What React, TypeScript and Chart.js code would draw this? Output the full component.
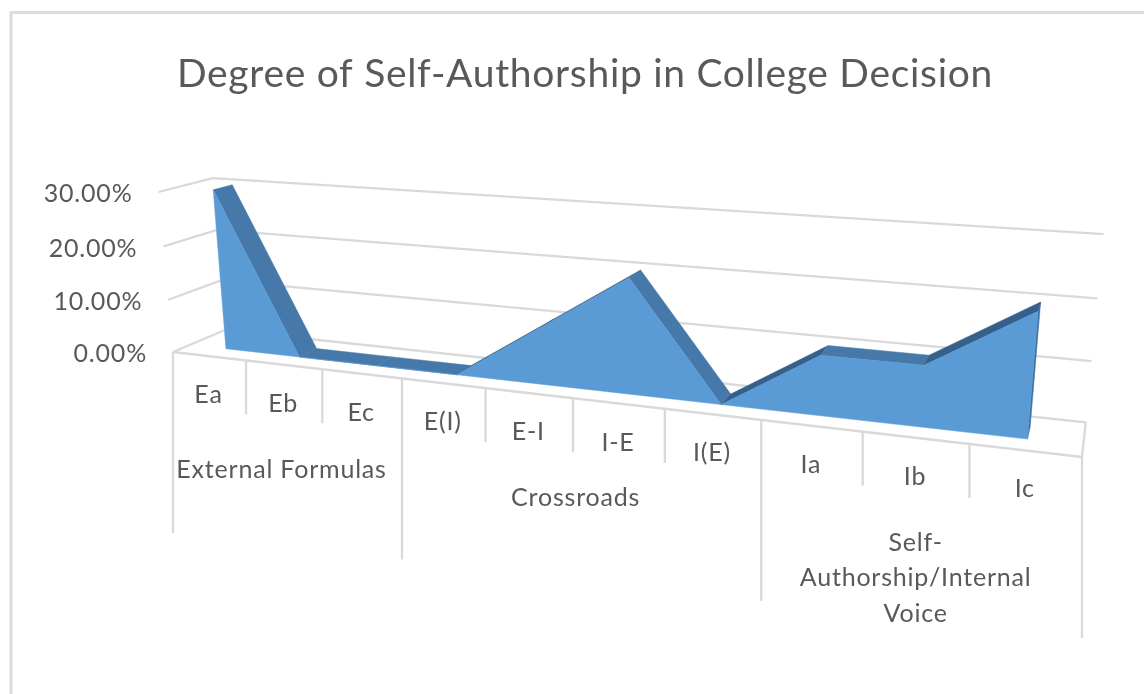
import React, { useEffect, useRef } from "react";
import { Chart, registerables } from "chart.js";

Chart.register(...registerables);

// Chart content
const chartTitle = "Degree of Self-Authorship in College Decision";
const categories = ["Ea", "Eb", "Ec", "E(I)", "E-I", "I-E", "I(E)", "Ia", "Ib", "Ic"];
const shareOfStudents = [0.3, 0, 0, 0, 0.1, 0.2, 0, 0.1, 0.1, 0.2];
const groupLines = [["External Formulas"], ["Crossroads"], ["Self-", "Authorship/Internal", "Voice"]];
const groupSpans = [3, 4, 3];

// Colours
const gridColor = "#d9d9d9";
const textColor = "#595959";
const faceColor = "#5b9bd5";
const topColor = "#4679a9";
const risingColor = "#35608c";
const sideColor = "#3f6d9b";
const labelFont = "Lato";

// Perspective box: u runs along the categories, v up the value axis, d into the depth.
const O = { x: 173, y: 352 };
const X = { x: 1082, y: 457 };
const Y = { x: 158.5, y: 192 };
const Z = { x: 225, y: 330 };
const wx = 0.786;
const wy = 0.9687;
const wz = 1.057;
const depthFront = 0.32;
const depthBack = 0.68;

function project(u: number, v: number, d: number) {
  const w = 1 + u * (wx - 1) + v * (wy - 1) + d * (wz - 1);
  const nx = O.x + u * (wx * X.x - O.x) + v * (wy * Y.x - O.x) + d * (wz * Z.x - O.x);
  const ny = O.y + u * (wx * X.y - O.y) + v * (wy * Y.y - O.y) + d * (wz * Z.y - O.y);
  return { x: nx / w, y: ny / w };
}

type Pt = { x: number; y: number };

function polygon(ctx: CanvasRenderingContext2D, pts: Pt[], fill: string) {
  ctx.beginPath();
  pts.forEach((p, i) => (i ? ctx.lineTo(p.x, p.y) : ctx.moveTo(p.x, p.y)));
  ctx.closePath();
  ctx.fillStyle = fill;
  ctx.fill();
  ctx.strokeStyle = fill;
  ctx.lineWidth = 0.5;
  ctx.stroke();
}

function polyline(ctx: CanvasRenderingContext2D, pts: Pt[]) {
  ctx.beginPath();
  pts.forEach((p, i) => (i ? ctx.lineTo(p.x, p.y) : ctx.moveTo(p.x, p.y)));
  ctx.strokeStyle = gridColor;
  ctx.lineWidth = 2.3;
  ctx.stroke();
}

// Turns a parsed dataset point into box coordinates by way of the chart's scales.
function pointCoords(chart: any, index: number) {
  const sx = chart.scales.x;
  const sy = chart.scales.y;
  const u = (sx.getPixelForValue(index) - sx.left) / (sx.right - sx.left);
  const v = (sy.bottom - sy.getPixelForValue(shareOfStudents[index])) / (sy.bottom - sy.top);
  return { u, v };
}

const perspectivePlugin = {
  id: "perspectiveArea",
  beforeDraw(chart: any) {
    const { ctx, width, height } = chart;
    ctx.save();
    ctx.strokeStyle = "#dcdcdc";
    ctx.lineWidth = 3;
    ctx.beginPath();
    ctx.moveTo(11, height + 4);
    ctx.lineTo(11, 12.5);
    ctx.lineTo(width + 4, 12.5);
    ctx.stroke();
    ctx.restore();
    // Wider tracking for the title, which is drawn straight after this hook
    ctx.letterSpacing = "0.7px";
  },
  beforeDatasetsDraw(chart: any) {
    const { ctx } = chart;
    const sy = chart.scales.y;
    const range = sy.max - sy.min;
    ctx.save();
    ctx.lineJoin = "round";

    // Value gridlines across the side wall and the back wall, with their tick labels
    ctx.font = `25px ${labelFont}`;
    ctx.letterSpacing = "0.8px";
    ctx.fillStyle = textColor;
    ctx.textAlign = "right";
    ctx.textBaseline = "middle";
    sy.ticks.forEach((tick: any) => {
      const v = (tick.value - sy.min) / range;
      const a = project(0, v, 0);
      polyline(ctx, [a, project(0, v, 1), project(1, v, 1)]);
      ctx.fillStyle = textColor;
      ctx.fillText(tick.label, a.x - 26, a.y + 2);
    });

    // Floor outline
    polyline(ctx, [project(0, 0, 0), project(1, 0, 0), project(1, 0, 1)]);

    // Category dividers hanging from the front edge of the floor
    const count = categories.length;
    const long = new Set<number>([0]);
    let running = 0;
    groupSpans.forEach((span) => {
      running += span;
      long.add(running);
    });
    for (let k = 0; k <= count; k++) {
      const p = project(k / count, 0, 0);
      polyline(ctx, [p, { x: p.x, y: p.y + (long.has(k) ? 181 : 54) }]);
    }

    // Category labels and their group labels
    ctx.textAlign = "center";
    categories.forEach((name, i) => {
      const a = project(i / count, 0, 0);
      const b = project((i + 1) / count, 0, 0);
      const x = (a.x + b.x) / 2;
      ctx.fillText(name, x - 1, project((i + 0.5) / count, 0, 0).y + 39);
    });
    let first = 0;
    groupLines.forEach((lines, g) => {
      const a = project(first / count, 0, 0);
      const b = project((first + groupSpans[g]) / count, 0, 0);
      const x = (a.x + b.x) / 2 - 6;
      const edge = O.y + ((x - O.x) / (X.x - O.x)) * (X.y - O.y);
      lines.forEach((line, i) => {
        ctx.fillText(line, x, edge + (g === 1 ? 99 : 105) + i * 35.5);
      });
      first += groupSpans[g];
    });

    // Top ribbon of the area, then the end face at the last category
    const pts = categories.map((_, i) => pointCoords(chart, i));
    for (let i = 0; i < pts.length - 1; i++) {
      const p = pts[i];
      const q = pts[i + 1];
      polygon(
        ctx,
        [project(p.u, p.v, depthFront), project(q.u, q.v, depthFront), project(q.u, q.v, depthBack), project(p.u, p.v, depthBack)],
        q.v > p.v ? risingColor : topColor
      );
    }
    const end = pts[pts.length - 1];
    polygon(
      ctx,
      [project(end.u, 0, depthFront), project(end.u, end.v, depthFront), project(end.u, end.v, depthBack), project(end.u, 0, depthBack)],
      sideColor
    );

    // Front face of the area
    const start = pts[0];
    polygon(
      ctx,
      [project(start.u, 0, depthFront), ...pts.map((p) => project(p.u, p.v, depthFront)), project(end.u, 0, depthFront)],
      faceColor
    );
    ctx.restore();
  },
};

export default function App() {
  const canvasRef = useRef<HTMLCanvasElement | null>(null);

  useEffect(() => {
    const canvas = canvasRef.current;
    if (!canvas) return;
    const chart = new Chart(canvas, {
      type: "line",
      data: {
        labels: categories,
        datasets: [
          {
            label: chartTitle,
            data: shareOfStudents,
            showLine: false,
            pointRadius: 0,
            backgroundColor: faceColor,
            borderColor: faceColor,
          },
        ],
      },
      options: {
        responsive: false,
        animation: false,
        layout: { padding: { left: 26, top: 30, right: 0, bottom: 0 } },
        scales: {
          x: {
            type: "category",
            offset: true,
            grid: { display: false },
            border: { display: false },
            ticks: { display: false },
          },
          y: {
            type: "linear",
            min: 0,
            max: 0.3,
            grid: { display: false },
            border: { display: false },
            ticks: {
              display: false,
              stepSize: 0.1,
              callback: (value: any) => `${(Number(value) * 100).toFixed(2)}%`,
            },
          },
        },
        plugins: {
          legend: { display: false },
          tooltip: { enabled: false },
          title: {
            display: true,
            text: chartTitle,
            color: textColor,
            font: { family: labelFont, size: 39, weight: "normal" },
            padding: { top: 21, bottom: 10 },
          },
        },
      },
      plugins: [perspectivePlugin],
    } as any);
    return () => chart.destroy();
  }, []);

  return (
    <div style={{ position: "fixed", left: 0, top: 0, width: 1144, height: 694, background: "#fff" }}>
      <canvas ref={canvasRef} width={1144} height={694} style={{ display: "block" }} />
    </div>
  );
}
